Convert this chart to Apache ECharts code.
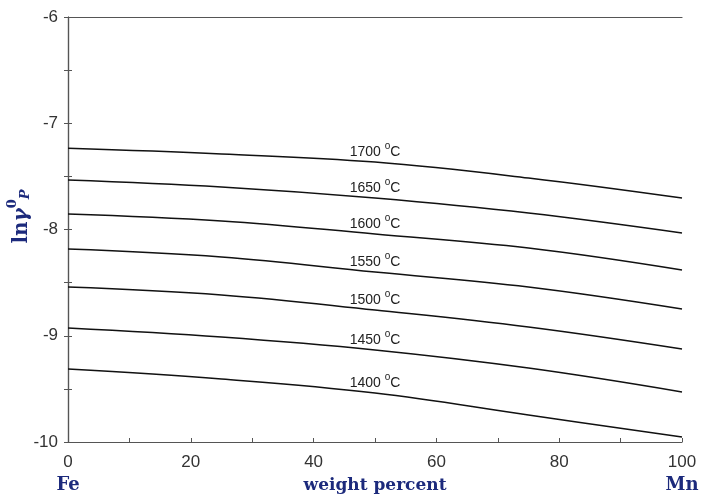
<!DOCTYPE html>
<html>
<head>
<meta charset="utf-8">
<script src="https://cdn.jsdelivr.net/npm/echarts@6/dist/echarts.min.js"></script>
<style>
  html, body { margin: 0; padding: 0; background: #fff; }
  #chart { width: 702px; height: 497px; }
</style>
</head>
<body>
<div id="chart"></div>
<script>
const xPoints = [0, 25, 50, 75, 100];

// temperatures, one curve each
const temps = [1700, 1650, 1600, 1550, 1500, 1450, 1400];

// ln gamma_P^0
const lnGamma1700 = [-7.236, -7.289, -7.365, -7.515, -7.704];
const lnGamma1650 = [-7.534, -7.600, -7.704, -7.845, -8.033];
const lnGamma1600 = [-7.854, -7.920, -8.042, -8.174, -8.381];
const lnGamma1550 = [-8.184, -8.259, -8.400, -8.541, -8.748];
const lnGamma1500 = [-8.541, -8.616, -8.758, -8.918, -9.125];
const lnGamma1450 = [-8.927, -9.012, -9.134, -9.304, -9.529];
const lnGamma1400 = [-9.313, -9.407, -9.539, -9.746, -9.953];

const curves = [lnGamma1700, lnGamma1650, lnGamma1600, lnGamma1550,
  lnGamma1500, lnGamma1450, lnGamma1400];

// the temperature label sits over this point of each curve
const labelAt = 50;

const navy = "#1c2a7c";
const axisColor = "#555";

const chart = echarts.init(document.getElementById("chart"), null, { renderer: "canvas" });

const series = curves.map((vals, i) => {
  const j = xPoints.indexOf(labelAt);
  return {
    type: "line",
    name: temps[i] + " °C",
    smooth: 0.4,
    symbol: "none",
    lineStyle: { color: "#111", width: 1.5 },
    data: vals.map((v, k) => [xPoints[k], v]),
    markPoint: {
      symbol: "circle",
      symbolSize: 1,
      itemStyle: { color: "rgba(0,0,0,0)" },
      label: {
        show: true,
        position: "top",
        distance: 2,
        formatter: "{n|" + temps[i] + " }{d|o}{n|C}",
        rich: {
          n: { fontFamily: "Liberation Sans", fontSize: 14, color: "#222", verticalAlign: "bottom", lineHeight: 18 },
          d: { fontFamily: "Liberation Sans", fontSize: 10, color: "#222", verticalAlign: "top", lineHeight: 18 },
        },
      },
      data: [{ coord: [labelAt, vals[j]] }],
    },
  };
});

const option = {
  animation: false,
  grid: { left: 68, right: 20, top: 17, bottom: 55, containLabel: false, outerBoundsMode: "none" },
  xAxis: [
    {
      type: "value",
      min: 0,
      max: 100,
      interval: 20,
      position: "bottom",
      name: "weight percent",
      nameLocation: "middle",
      nameGap: 35,
      nameTextStyle: { fontFamily: "DejaVu Serif", fontWeight: "bold", fontSize: 17, color: navy },
      axisLine: { show: true, onZero: false, lineStyle: { color: axisColor, width: 1.2 } },
      axisTick: { inside: true, length: 4, lineStyle: { color: axisColor } },
      minorTick: { show: true, splitNumber: 2, length: 4, lineStyle: { color: axisColor } },
      axisLabel: { fontFamily: "Liberation Sans", fontSize: 17, color: "#333", margin: 12 },
      splitLine: { show: false },
    },
    {
      // end members of the binary, under 0 and 100
      type: "value",
      min: 0,
      max: 100,
      interval: 100,
      position: "bottom",
      offset: 26,
      axisLine: { show: false },
      axisTick: { show: false },
      axisLabel: {
        fontFamily: "DejaVu Serif",
        fontWeight: "bold",
        fontSize: 18,
        color: navy,
        margin: 8,
        formatter: (v) => (v === 0 ? "Fe" : v === 100 ? "Mn" : ""),
      },
      splitLine: { show: false },
    },
    {
      type: "value",
      min: 0,
      max: 100,
      position: "top",
      axisLine: { show: true, lineStyle: { color: axisColor, width: 1.2 } },
      axisTick: { show: false },
      axisLabel: { show: false },
      splitLine: { show: false },
    },
  ],
  yAxis: [
    {
      type: "value",
      min: -10,
      max: -6,
      interval: 1,
      name: "{a|ln}{g|γ}{s|0}{p|P}",
      nameLocation: "middle",
      nameRotate: 90,
      nameGap: 36,
      nameMoveOverlap: false,
      nameTextStyle: {
        padding: [0, 0, 0, 26],
        rich: {
          a: { fontFamily: "DejaVu Serif", fontWeight: "bold", fontSize: 20, color: navy, verticalAlign: "bottom", lineHeight: 26 },
          g: { fontFamily: "DejaVu Serif", fontWeight: "bold", fontStyle: "italic", fontSize: 20, color: navy, verticalAlign: "bottom", lineHeight: 26 },
          s: { fontFamily: "DejaVu Serif", fontWeight: "bold", fontSize: 13, color: navy, verticalAlign: "top", lineHeight: 26 },
          p: { fontFamily: "DejaVu Serif", fontWeight: "bold", fontStyle: "italic", fontSize: 13, color: navy, verticalAlign: "bottom", lineHeight: 22 },
        },
      },
      axisLine: { show: true, onZero: false, lineStyle: { color: axisColor, width: 1.2 } },
      axisTick: { inside: true, length: 4, lineStyle: { color: axisColor } },
      minorTick: { show: true, splitNumber: 2, length: 4, lineStyle: { color: axisColor } },
      axisLabel: { fontFamily: "Liberation Sans", fontSize: 17, color: "#333", margin: 10 },
      splitLine: { show: false },
    },
    {
      type: "value",
      min: -10,
      max: -6,
      interval: 1,
      position: "right",
      axisLine: { show: true, lineStyle: { color: axisColor, width: 1.2 } },
      axisTick: { inside: true, length: 4, lineStyle: { color: axisColor } },
      minorTick: { show: true, splitNumber: 2, length: 4, lineStyle: { color: axisColor } },
      axisLabel: { show: false },
      splitLine: { show: false },
    },
  ],
  series: series,
};

chart.setOption(option);
</script>
</body>
</html>
